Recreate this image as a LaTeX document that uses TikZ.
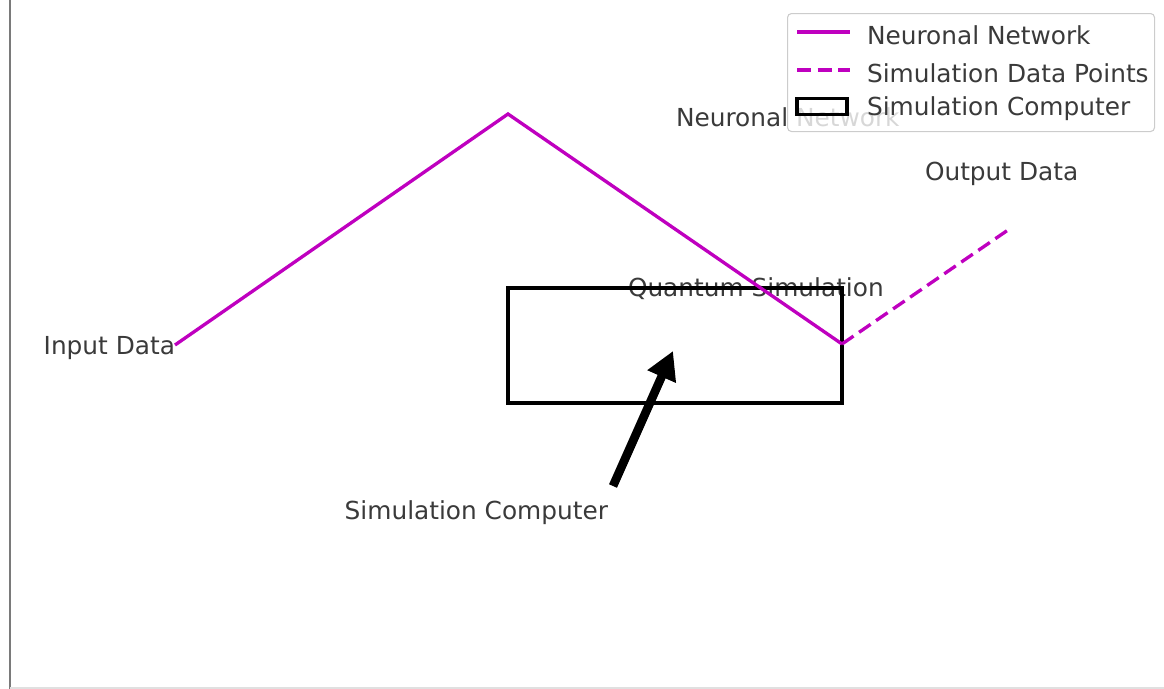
\documentclass[tikz,border=0pt]{standalone}
\usepackage{fontspec}
\setmainfont{DejaVu Sans}
\usetikzlibrary{arrows.meta}
\definecolor{netmag}{rgb}{0.75,0,0.75}
\definecolor{labelgray}{HTML}{3A3A3A}
\definecolor{spinegray}{HTML}{7A7A7A}
\tikzset{
  lbl/.style={inner sep=0pt, outer sep=0pt, text=labelgray,
    font=\fontsize{18.6pt}{22pt}\selectfont},
  netline/.style={draw=netmag, line width=2.5pt, line join=miter},
  simline/.style={netline, dash pattern=on 10.5pt off 5pt},
  compbox/.style={draw=black, line width=2.4pt, inner sep=0pt, outer sep=0pt},
  bigarrow/.style={draw=black, line width=6.5pt,
    -{Triangle[length=21pt,width=22pt]}},
  legendframe/.style={draw=black!20, line width=0.8pt, fill=white,
    fill opacity=0.8, rounded corners=3pt}
}
\begin{document}
\begin{tikzpicture}[x=0.75pt,y=-0.75pt]
\useasboundingbox (0,0) rectangle (1164,689);

% axis spines
\draw[spinegray, line width=2pt] (10,0) -- (10,689);
\draw[black!12, line width=0.8pt] (10,688) -- (1164,688);

% key points of the network curve
\coordinate (input) at (175,345);
\coordinate (peak) at (508,114);
\coordinate (quant) at (842,344);
\coordinate (output) at (1008,230);

% labels
\node[lbl, anchor=east] (inlbl) at (175,348) {Input Data};
\node[lbl, anchor=west] (netlbl) at (676,117) {Neuronal Network};
\node[lbl, anchor=west] (outlbl) at (925,174) {Output Data};
\node[lbl, anchor=west] (qslbl) at (628,289) {Quantum Simulation};
\node[lbl, anchor=east] (complbl) at (608,513) {Simulation Computer};

% simulation computer box
\node[compbox, minimum width=250.5pt, minimum height=86.25pt] (simbox) at (675,345.5) {};

% neuronal network and simulation data
\draw[netline] (input) -- (peak) -- (quant);
\draw[simline] (quant) -- (output);

% annotation arrow
\coordinate (arrtail) at (613,486);
\coordinate (arrtip) at (673,351);
\draw[bigarrow] (arrtail) -- (arrtip);

% legend
\node[legendframe, minimum width=275.25pt, minimum height=88.5pt, anchor=north west] (legend) at (787,13) {};
\coordinate (h1a) at (797,32);  \coordinate (h1b) at (850,32);
\coordinate (h2a) at (797,70);  \coordinate (h2b) at (850,70);
\draw[netline] (h1a) -- (h1b);
\draw[simline] (h2a) -- (h2b);
\node[compbox, minimum width=37.5pt, minimum height=12.5pt] (h3) at (822,106.5) {};
\node[lbl, anchor=west] (leg1) at (867,35) {Neuronal Network};
\node[lbl, anchor=west] (leg2) at (867,73) {Simulation Data Points};
\node[lbl, anchor=west] (leg3) at (867,109) {Simulation Computer};
\end{tikzpicture}
\end{document}
